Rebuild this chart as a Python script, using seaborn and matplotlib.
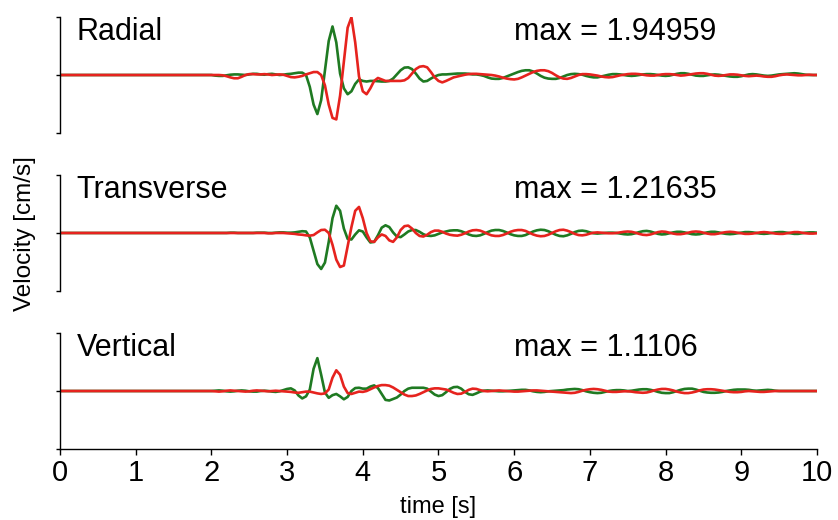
import numpy as np
import pandas as pd
import seaborn as sns
import matplotlib.pyplot as plt

sns.set_theme(style="white")
plt.rcParams["font.family"] = ["Liberation Sans", "DejaVu Sans"]
plt.rcParams["text.color"] = "black"
plt.rcParams["xtick.color"] = "black"
plt.rcParams["ytick.color"] = "black"

# time axis: quiet until 2 s, then samples every 0.05 s up to 10 s
time = np.r_[0.0, np.round(np.arange(2.0, 10.0001, 0.05), 2)]

components = ["Radial", "Transverse", "Vertical"]
max_labels = ["max = 1.94959", "max = 1.21635", "max = 1.1106"]

# velocity traces [cm/s] (green = data 1, red = data 2)
radial_green = [
    0.0, -0.02, -0.03, -0.03, -0.01, 0.01, 0.02, 0.02, 0.01, 0.0,
    0.02, 0.04, 0.04, 0.02, 0.01, 0.03, 0.04, 0.02, 0.0, 0.01,
    0.03, 0.04, 0.06, 0.08, 0.08, 0.0, -0.4, -1.0, -1.32, -0.85,
    0.15, 1.15, 1.64, 1.1, 0.05, -0.45, -0.65, -0.55, -0.3, -0.15,
    -0.2, -0.22, -0.2, -0.2, -0.21, -0.22, -0.22, -0.2, -0.12, 0.02,
    0.16, 0.25, 0.26, 0.2, 0.05, -0.12, -0.22, -0.2, -0.12, -0.05,
    0.0, 0.02, 0.02, 0.03, 0.04, 0.05, 0.05, 0.05, 0.04, 0.02,
    0.02, 0.0, -0.03, -0.08, -0.12, -0.13, -0.13, -0.1, -0.05, 0.0,
    0.05, 0.1, 0.14, 0.16, 0.16, 0.12, 0.05, -0.03, -0.09, -0.12,
    -0.13, -0.13, -0.1, -0.05, 0.0, 0.03, 0.04, 0.03, 0.01, -0.03,
    -0.06, -0.08, -0.08, -0.05, -0.02, 0.01, 0.03, 0.03, 0.02, 0.0,
    -0.02, -0.03, -0.02, 0.0, 0.02, 0.03, 0.03, 0.02, 0.0, -0.02,
    -0.03, -0.02, 0.01, 0.04, 0.06, 0.06, 0.04, 0.01, -0.02, -0.03,
    -0.03, -0.01, 0.01, 0.02, 0.01, -0.01, -0.03, -0.05, -0.06, -0.06,
    -0.04, -0.01, 0.02, 0.03, 0.02, 0.0, -0.02, -0.03, -0.02, 0.0,
    0.02, 0.03, 0.04, 0.05, 0.06, 0.05, 0.03, 0.01, 0.0, 0.0,
    0.0,
]
radial_red = [
    0.0, 0.0, 0.0, -0.01, -0.04, -0.08, -0.11, -0.11, -0.06, 0.0,
    0.03, 0.03, 0.02, 0.02, 0.03, 0.02, 0.0, 0.01, 0.02, 0.01,
    -0.03, -0.07, -0.08, -0.06, -0.03, 0.02, 0.06, 0.1, 0.1, 0.0,
    -0.35, -1.0, -1.45, -1.5, -0.7, 0.45, 1.6, 1.9496, 1.1, -0.05,
    -0.55, -0.65, -0.45, -0.2, -0.1, -0.15, -0.2, -0.2, -0.2, -0.2,
    -0.2, -0.18, -0.1, 0.05, 0.2, 0.28, 0.3, 0.26, 0.1, -0.08,
    -0.2, -0.25, -0.2, -0.14, -0.08, -0.05, -0.02, 0.01, 0.03, 0.04,
    0.04, 0.03, 0.02, 0.01, 0.0, -0.02, -0.05, -0.09, -0.12, -0.14,
    -0.15, -0.13, -0.08, -0.02, 0.04, 0.1, 0.14, 0.16, 0.16, 0.13,
    0.07, -0.01, -0.08, -0.12, -0.13, -0.1, -0.05, 0.0, 0.03, 0.03,
    0.02, 0.0, -0.02, -0.05, -0.07, -0.08, -0.07, -0.04, -0.01, 0.01,
    0.03, 0.04, 0.04, 0.03, 0.01, -0.01, -0.02, -0.02, 0.0, 0.02,
    0.03, 0.03, 0.02, 0.0, -0.02, -0.01, 0.01, 0.03, 0.05, 0.06,
    0.06, 0.04, 0.01, -0.02, -0.03, -0.02, 0.0, 0.02, 0.02, 0.01,
    -0.01, -0.03, -0.04, -0.03, -0.02, -0.03, -0.05, -0.06, -0.06, -0.04,
    -0.01, 0.01, 0.02, 0.01, 0.0, -0.01, -0.01, 0.0, 0.01, 0.0,
    0.0,
]
transverse_green = [
    0.0, 0.0, 0.0, 0.0, 0.0, 0.01, 0.01, 0.0, 0.0, 0.0,
    0.0, 0.0, 0.01, 0.01, 0.01, 0.0, 0.0, 0.01, 0.02, 0.02,
    0.01, 0.01, 0.02, 0.04, 0.06, 0.05, -0.15, -0.6, -1.05, -1.2164,
    -1.0, -0.3, 0.5, 0.92, 0.75, 0.15, -0.2, -0.22, -0.05, 0.09,
    0.05, -0.15, -0.32, -0.3, -0.08, 0.18, 0.26, 0.2, 0.02, -0.12,
    -0.14, -0.05, 0.05, 0.1, 0.1, 0.04, -0.04, -0.09, -0.1, -0.08,
    -0.03, 0.02, 0.05, 0.08, 0.09, 0.09, 0.06, 0.01, -0.05, -0.09,
    -0.1, -0.08, -0.03, 0.03, 0.08, 0.1, 0.1, 0.07, 0.02, -0.04,
    -0.08, -0.1, -0.1, -0.07, -0.01, 0.05, 0.09, 0.11, 0.1, 0.06,
    0.0, -0.06, -0.1, -0.11, -0.08, -0.03, 0.03, 0.07, 0.08, 0.06,
    0.02, -0.01, -0.02, -0.01, 0.0, 0.01, 0.01, 0.0, -0.02, -0.04,
    -0.05, -0.04, -0.01, 0.03, 0.06, 0.07, 0.05, 0.01, -0.03, -0.05,
    -0.04, -0.01, 0.02, 0.04, 0.04, 0.02, -0.01, -0.04, -0.05, -0.04,
    -0.01, 0.02, 0.04, 0.04, 0.02, -0.01, -0.03, -0.04, -0.03, -0.01,
    0.01, 0.03, 0.03, 0.02, 0.0, -0.02, -0.03, -0.02, 0.0, 0.02,
    0.03, 0.03, 0.01, -0.01, -0.03, -0.03, -0.01, 0.01, 0.02, 0.02,
    0.01,
]
transverse_red = [
    0.0, 0.0, 0.0, 0.0, 0.0, 0.0, 0.0, 0.0, 0.0, 0.0,
    0.0, 0.0, 0.0, 0.0, 0.0, -0.01, -0.01, 0.0, 0.0, 0.0,
    -0.01, -0.02, -0.03, -0.05, -0.06, -0.08, -0.09, -0.07, 0.02, 0.1,
    0.11, 0.0, -0.4, -0.9, -1.15, -1.1, -0.45, 0.2, 0.75, 0.88,
    0.5, 0.0, -0.28, -0.3, -0.15, -0.05, -0.1, -0.25, -0.3, -0.15,
    0.1, 0.23, 0.25, 0.15, 0.0, -0.1, -0.12, -0.06, 0.03, 0.08,
    0.08, 0.04, -0.02, -0.06, -0.08, -0.09, -0.06, -0.01, 0.05, 0.09,
    0.1, 0.08, 0.03, -0.03, -0.08, -0.1, -0.1, -0.07, -0.02, 0.04,
    0.08, 0.1, 0.1, 0.07, 0.01, -0.05, -0.09, -0.11, -0.1, -0.06,
    0.0, 0.06, 0.1, 0.11, 0.08, 0.03, -0.03, -0.07, -0.08, -0.06,
    -0.02, 0.01, 0.02, 0.01, 0.0, -0.01, -0.01, 0.0, 0.02, 0.04,
    0.05, 0.04, 0.01, -0.03, -0.06, -0.07, -0.05, -0.01, 0.03, 0.05,
    0.04, 0.01, -0.02, -0.04, -0.04, -0.02, 0.01, 0.04, 0.05, 0.04,
    0.01, -0.02, -0.04, -0.04, -0.02, 0.01, 0.03, 0.04, 0.03, 0.01,
    -0.01, -0.03, -0.03, -0.02, 0.0, 0.02, 0.03, 0.02, 0.0, -0.02,
    -0.03, -0.03, -0.01, 0.01, 0.03, 0.03, 0.01, -0.01, -0.02, -0.02,
    -0.01,
]
vertical_green = [
    0.0, 0.01, 0.02, 0.01, -0.01, -0.02, -0.01, 0.01, 0.02, 0.01,
    -0.01, -0.02, -0.02, 0.0, 0.01, 0.0, -0.02, -0.03, -0.01, 0.03,
    0.07, 0.09, 0.02, -0.15, -0.25, -0.18, 0.05, 0.75, 1.1106, 0.55,
    -0.05, -0.23, -0.14, -0.1, -0.18, -0.28, -0.2, 0.0, 0.1, 0.11,
    0.08, 0.08, 0.15, 0.19, 0.1, -0.1, -0.3, -0.32, -0.27, -0.22,
    -0.12, 0.0, 0.08, 0.11, 0.11, 0.11, 0.11, 0.08, -0.02, -0.12,
    -0.17, -0.14, -0.04, 0.07, 0.13, 0.14, 0.08, -0.03, -0.11, -0.13,
    -0.08, -0.02, 0.01, 0.02, 0.01, 0.0, -0.01, -0.01, 0.0, 0.01,
    0.02, 0.03, 0.04, 0.04, 0.02, -0.01, -0.03, -0.04, -0.03, -0.01,
    0.0, 0.01, 0.02, 0.03, 0.05, 0.06, 0.07, 0.06, 0.03, -0.01,
    -0.04, -0.06, -0.07, -0.06, -0.03, 0.0, 0.02, 0.03, 0.03, 0.02,
    0.0, 0.01, 0.03, 0.05, 0.06, 0.06, 0.04, 0.01, -0.03, -0.06,
    -0.07, -0.07, -0.04, 0.0, 0.04, 0.07, 0.08, 0.08, 0.05, 0.01,
    -0.03, -0.05, -0.06, -0.06, -0.05, -0.03, 0.0, 0.02, 0.04, 0.05,
    0.05, 0.05, 0.04, 0.02, 0.01, 0.02, 0.03, 0.04, 0.03, 0.01,
    0.0, 0.0, 0.0, 0.0, 0.0, 0.0, 0.0, 0.0, 0.0, 0.0,
    0.0,
]
vertical_red = [
    0.0, -0.01, -0.02, -0.01, 0.01, 0.02, 0.01, 0.0, -0.01, -0.02,
    -0.01, 0.01, 0.02, 0.01, 0.0, -0.01, 0.0, 0.01, 0.0, -0.01,
    -0.02, -0.03, -0.05, -0.06, -0.04, -0.02, -0.02, -0.05, -0.08, -0.1,
    -0.08, 0.05, 0.45, 0.7, 0.55, 0.15, -0.07, -0.1, -0.06, -0.02,
    -0.03, 0.0, 0.06, 0.12, 0.17, 0.2, 0.2, 0.18, 0.12, 0.04,
    -0.04, -0.12, -0.17, -0.17, -0.15, -0.1, -0.04, 0.02, 0.07, 0.09,
    0.09, 0.07, 0.05, 0.0, -0.06, -0.1, -0.09, -0.03, 0.04, 0.08,
    0.07, 0.03, 0.0, -0.01, 0.0, 0.01, 0.02, 0.01, 0.0, -0.01,
    -0.02, -0.02, -0.01, 0.0, 0.01, 0.02, 0.02, 0.01, 0.0, -0.01,
    -0.02, -0.03, -0.04, -0.05, -0.06, -0.07, -0.06, -0.03, 0.01, 0.04,
    0.06, 0.07, 0.06, 0.04, 0.01, -0.02, -0.03, -0.03, -0.02, -0.01,
    -0.01, -0.02, -0.04, -0.05, -0.06, -0.05, -0.02, 0.02, 0.05, 0.07,
    0.07, 0.05, 0.02, -0.02, -0.05, -0.07, -0.07, -0.05, -0.02, 0.02,
    0.05, 0.06, 0.06, 0.05, 0.03, 0.01, -0.01, -0.03, -0.04, -0.04,
    -0.03, -0.01, 0.0, -0.01, -0.02, -0.03, -0.03, -0.02, -0.01, 0.0,
    0.0, 0.0, 0.0, 0.0, 0.0, 0.0, 0.0, 0.0, 0.0, 0.0,
    0.0,
]

traces = {
    "Radial": (radial_green, radial_red),
    "Transverse": (transverse_green, transverse_red),
    "Vertical": (vertical_green, vertical_red),
}

colors = {"green": "#1f7a22", "red": "#e6231e"}
ylim = 1.96

fig = plt.figure(figsize=(8.38, 5.2), dpi=100)
# panel boxes in figure fractions (left, bottom, width, height)
boxes = [
    [0.0716, 0.7442, 0.9033, 0.2231],
    [0.0716, 0.4404, 0.9033, 0.2231],
    [0.0716, 0.1365, 0.9033, 0.2231],
]

for i, comp in enumerate(components):
    ax = fig.add_axes(boxes[i])
    g, r = traces[comp]
    df = pd.DataFrame({
        "time": np.r_[time, time],
        "vel": np.r_[0.0, g, 0.0, r],
        "trace": ["green"] * len(time) + ["red"] * len(time),
    })
    sns.lineplot(data=df, x="time", y="vel", hue="trace", hue_order=["green", "red"],
                 palette=colors, linewidth=1.9, legend=False, sort=False, ax=ax,
                 solid_joinstyle="round")
    ax.set_xlim(0, 10)
    ax.set_ylim(-ylim, ylim)
    ax.set_xlabel("")
    ax.set_ylabel("")
    ax.set_yticks([-ylim, 0, ylim])
    ax.set_yticklabels([])
    ax.tick_params(axis="y", length=3, width=1, direction="out", color="black", left=True)
    for s in ["top", "right"]:
        ax.spines[s].set_visible(False)
    ax.spines["left"].set_color("black")
    ax.spines["left"].set_linewidth(1)
    ax.patch.set_alpha(0)

    ax.text(0.22, ylim * 0.6, comp, fontsize=22, ha="left", va="baseline", color="black")
    ax.text(6.0, ylim * 0.6, max_labels[i], fontsize=22, ha="left", va="baseline",
            color="black")

    if i < 2:
        ax.spines["bottom"].set_visible(False)
        ax.set_xticks([])
    else:
        ax.spines["bottom"].set_color("black")
        ax.spines["bottom"].set_linewidth(1)
        ax.set_xticks(range(0, 11))
        ax.tick_params(axis="x", length=4, width=1, direction="out", color="black",
                       bottom=True, labelsize=21, pad=3, labelcolor="black")
        ax.set_xlabel("time [s]", fontsize=17, labelpad=7, color="black")

fig.text(0.03, 0.55, "Velocity [cm/s]", rotation=90, fontsize=17.5,
         ha="center", va="center", color="black")

fig.savefig("out.png", dpi=100)
